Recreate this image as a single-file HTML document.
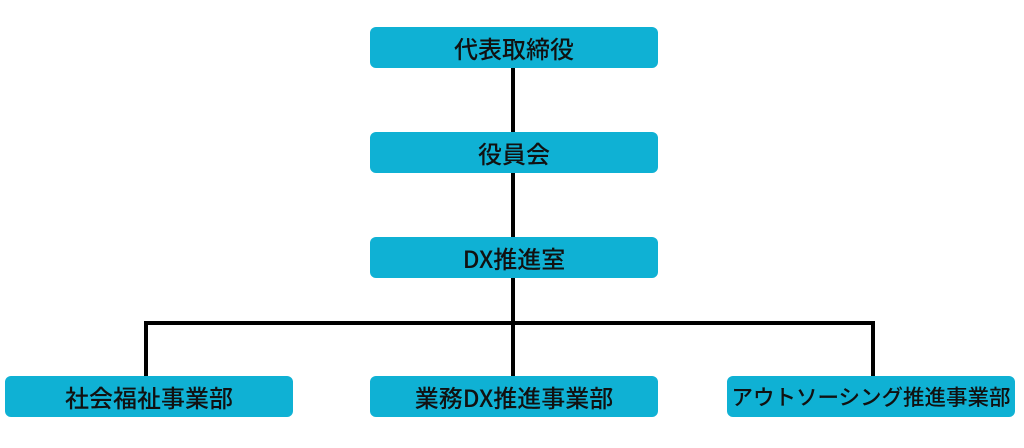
<!DOCTYPE html>
<html><head><meta charset="utf-8"><style>
body{margin:0;width:1024px;height:448px;background:#fff;position:relative;overflow:hidden;font-family:"Noto Sans CJK JP Medium","Liberation Sans","Noto Sans CJK JP",sans-serif}
.b{position:absolute;background:#0fb1d4;border-radius:6px;height:41px;display:flex;align-items:center;justify-content:center;font-size:24px;color:#111;font-weight:500;white-space:nowrap}
.l{position:absolute;background:#000}
</style></head><body>
<div class="l" style="left:511px;top:66px;width:4px;height:311px"></div>
<div class="l" style="left:144px;top:321px;width:731px;height:4px"></div>
<div class="l" style="left:144px;top:321px;width:4px;height:56px"></div>
<div class="l" style="left:871px;top:321px;width:4px;height:56px"></div>
<div class="b" style="left:370px;top:27px;width:288px">代表取締役</div>
<div class="b" style="left:370px;top:132px;width:288px">役員会</div>
<div class="b" style="left:370px;top:237px;width:288px">DX推進室</div>
<div class="b" style="left:5px;top:376px;width:288px">社会福祉事業部</div>
<div class="b" style="left:370px;top:376px;width:288px">業務DX推進事業部</div>
<div class="b" style="left:727px;top:376px;width:288px;font-size:21.5px">アウトソーシング推進事業部</div>
</body></html>
